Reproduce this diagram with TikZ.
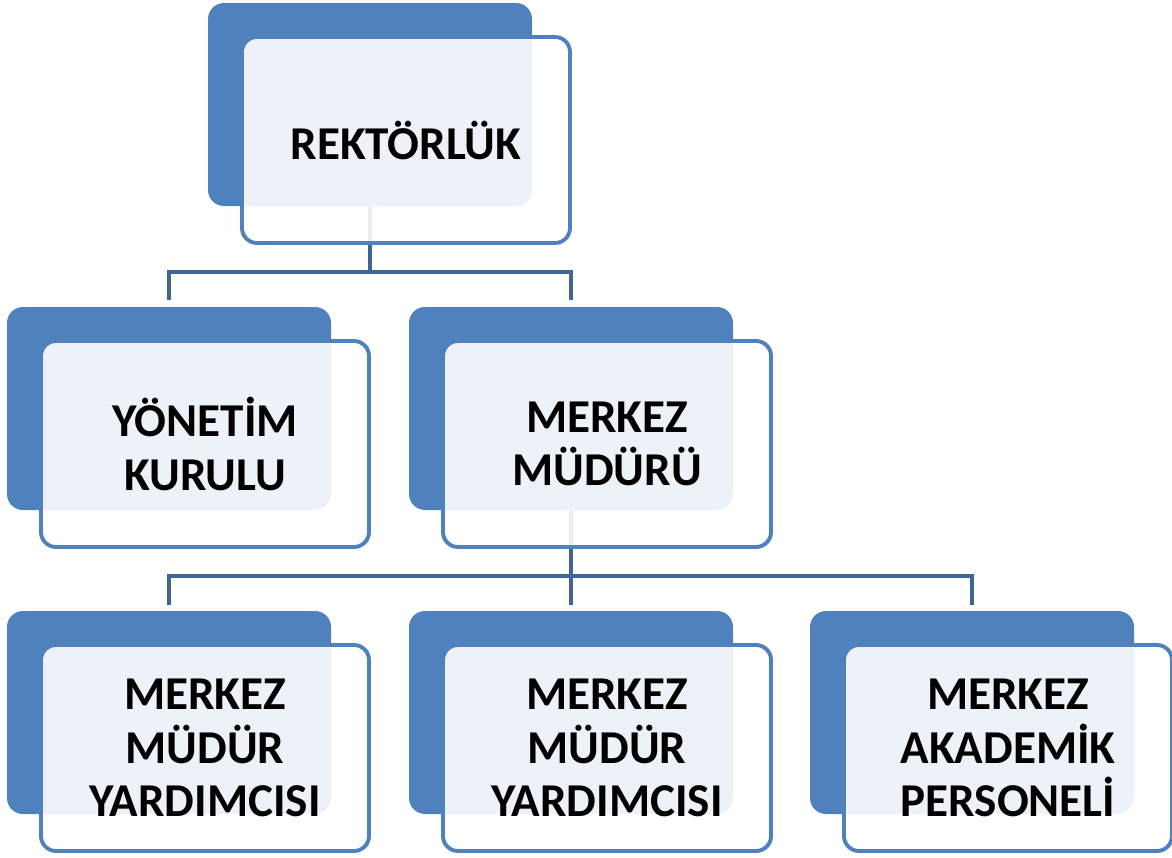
\documentclass[tikz,border=0pt]{standalone}
\usepackage{fontspec}
\setmainfont{Carlito}
\usetikzlibrary{calc}
\definecolor{accblue}{RGB}{79, 129, 189}
\definecolor{linkblue}{RGB}{62, 100, 152}

\begin{document}
\begin{tikzpicture}[
        backbox/.style={fill=accblue, rounded corners=0.32cm, minimum width=6.48cm, minimum height=4.06cm, inner sep=0pt},
        frontbox/.style={draw=accblue, line width=2.2pt, fill=white, fill opacity=0.9, text opacity=1, rounded corners=0.3cm,
            minimum width=6.56cm, minimum height=4.12cm, inner sep=0pt, align=center,
            font=\fontsize{26.8}{30.4}\selectfont\bfseries, xshift=0.72cm, yshift=-0.71cm},
        conn/.style={draw=linkblue, line width=2.2pt}
    ]
        \useasboundingbox (0, 0) rectangle (23.44, -17.14);

        % back boxes
        \node[backbox] (rekb) at (7.4, -2.09) {};
        \node[backbox] (yonb) at (3.38, -8.17) {};
        \node[backbox] (mmb) at (11.42, -8.17) {};
        \node[backbox] (myr1b) at (3.38, -14.25) {};
        \node[backbox] (myr2b) at (11.42, -14.25) {};
        \node[backbox] (mapb) at (19.44, -14.25) {};

        % Connectors
        \draw[conn, shorten >=0.14cm] (rekb.south) -- ++(0, -1.32) -| (yonb.north);
        \draw[conn, shorten >=0.14cm] (rekb.south) -- ++(0, -1.32) -| (mmb.north);
        \draw[conn, shorten >=0.12cm] (mmb.south) -- ++(0, -1.32) -| (myr1b.north);
        \draw[conn, shorten >=0.12cm] (mmb.south) -- ++(0, -1.32) -| (myr2b.north);
        \draw[conn, shorten >=0.12cm] (mmb.south) -- ++(0, -1.32) -| (mapb.north);

        % front boxes
        \node[frontbox] (rek) at (rekb) {REKTÖRLÜK};
        \node[frontbox] (yon) at (yonb) {YÖNETİM\\KURULU};
        \node[frontbox] (mm) at (mmb) {MERKEZ\\MÜDÜRÜ};
        \node[frontbox] (myr1) at (myr1b) {MERKEZ\\MÜDÜR\\YARDIMCISI};
        \node[frontbox] (myr2) at (myr2b) {MERKEZ\\MÜDÜR\\YARDIMCISI};
        \node[frontbox] (map) at (mapb) {MERKEZ\\AKADEMİK\\PERSONELİ};
    \end{tikzpicture}
\end{document}
